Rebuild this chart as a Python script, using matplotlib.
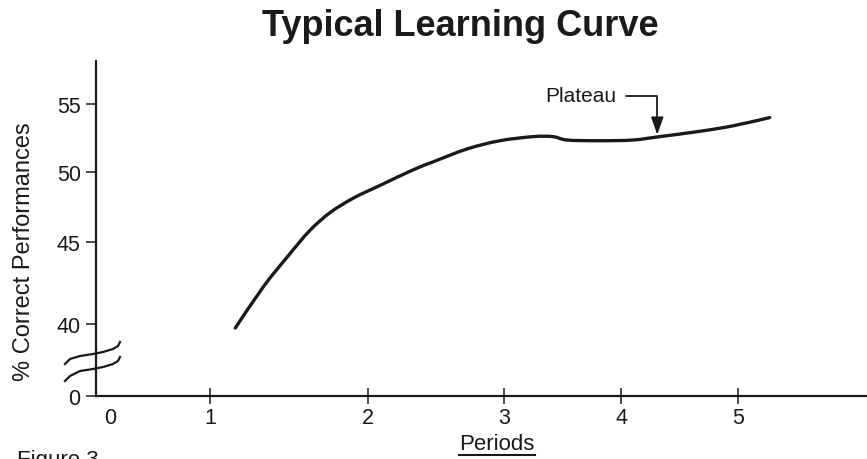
import numpy as np
import matplotlib.pyplot as plt
from matplotlib.lines import Line2D
from matplotlib.path import Path
from matplotlib.patches import PathPatch
from matplotlib.transforms import IdentityTransform

plt.rcParams['font.family'] = ['Liberation Sans', 'DejaVu Sans']

# data (periods, % correct)
periods = [1.16, 1.34, 1.49, 1.63, 1.76, 1.91, 2.09, 2.33, 2.48, 2.73, 2.97,
           3.25, 3.42, 3.54, 3.82, 4.10, 4.33, 4.68, 4.96, 5.27]
correct = [39.75, 42.3, 44.1, 45.8, 47.1, 48.15, 49.05, 50.15, 50.75, 51.7, 52.3,
           52.6, 52.6, 52.35, 52.3, 52.35, 52.6, 53.0, 53.4, 54.0]
x_ticks = [0, 1, 2, 3, 4, 5]
y_ticks = [0, 40, 45, 50, 55]
plateau_at = (4.31, 52.75)

# the drawing is hand made: tick spacing is uneven and the y axis is broken
x_knots = [-0.14, 0, 1, 2, 3, 4, 5, 6.1]
x_pix = [0, 14, 114, 272, 408, 525, 642, 771]
y_knots = [0, 39, 40, 45, 50, 55, 58]
y_pix = [0, 56, 72, 154, 224, 292, 335]

ink = '#1a1a1a'

fig = plt.figure(figsize=(8.67, 4.6), dpi=100)
ax = fig.add_axes([96 / 867, 63 / 460, 1 - 96 / 867, 335 / 460])

ax.set_xscale('function', functions=(lambda v: np.interp(v, x_knots, x_pix),
                                     lambda p: np.interp(p, x_pix, x_knots)))
ax.set_yscale('function', functions=(lambda v: np.interp(v, y_knots, y_pix),
                                     lambda p: np.interp(p, y_pix, y_knots)))
ax.set_xlim(x_knots[0], x_knots[-1])
ax.set_ylim(y_knots[0], y_knots[-1])


def smooth_path(p):
    # catmull-rom through the points, drawn as cubic bezier pieces
    p = np.vstack([p[0], p, p[-1]])
    verts = [p[1]]
    codes = [Path.MOVETO]
    for i in range(1, len(p) - 2):
        c1 = p[i] + (p[i + 1] - p[i - 1]) / 6
        c2 = p[i + 1] - (p[i + 2] - p[i]) / 6
        verts += [c1, c2, p[i + 1]]
        codes += [Path.CURVE4] * 3
    return Path(verts, codes)


# smooth in screen space so the uneven scale does not put kinks in the curve
screen = ax.transData.transform(np.column_stack([periods, correct]))
ax.add_artist(PathPatch(smooth_path(screen), fill=False, edgecolor=ink,
                        lw=2.4, capstyle='round', transform=IdentityTransform()))

for s in ['top', 'right']:
    ax.spines[s].set_visible(False)
for s in ['left', 'bottom']:
    ax.spines[s].set_linewidth(1.6)
    ax.spines[s].set_color(ink)

ax.set_xticks(x_ticks)
ax.set_yticks(y_ticks)
ax.tick_params(axis='x', direction='inout', length=12, width=1.1, pad=2,
               labelsize=15.5, colors=ink)
ax.tick_params(axis='y', direction='out', length=7, width=1.1, pad=4,
               labelsize=15.5, colors=ink)
ax.xaxis.get_major_ticks()[0].tick1line.set_visible(False)

# axis break marks
bx = np.array([65, 70, 80, 93, 103, 113, 118, 120])
for by in ([365, 360, 357, 355, 353, 350, 347, 343],
           [382, 377, 372, 370, 368, 365, 362, 358]):
    fig.add_artist(Line2D(bx / 867, 1 - np.array(by) / 460, color=ink, lw=1.6))

ax.annotate('Plateau', xy=plateau_at, xytext=(3.35, 55.56),
            ha='left', va='center', fontsize=15, color=ink,
            arrowprops=dict(arrowstyle='-|>,head_length=0.7,head_width=0.25',
                            connectionstyle='angle,angleA=0,angleB=90,rad=0',
                            color=ink, lw=1.3, shrinkA=5, shrinkB=0))

fig.text(460 / 867, 1 - 26 / 460, 'Typical Learning Curve', ha='center',
         va='center', fontsize=26, fontweight='bold', color=ink)
fig.text(24 / 867, 1 - 252 / 460, '% Correct Performances', rotation=90,
         ha='center', va='center', fontsize=17, color=ink)
xl = fig.text(497 / 867, 1 - 445 / 460, 'Periods', ha='center', va='center',
              fontsize=16, color=ink)
fig.text(17 / 867, 1 - 450 / 460, 'Figure 3', ha='left', va='top',
         fontsize=16, color=ink)

fig.canvas.draw()
bb = xl.get_window_extent().transformed(fig.transFigure.inverted())
fig.add_artist(Line2D([bb.x0, bb.x1], [bb.y0 - 0.002, bb.y0 - 0.002],
                      color=ink, lw=1.5))

fig.savefig('out.png', dpi=100)
